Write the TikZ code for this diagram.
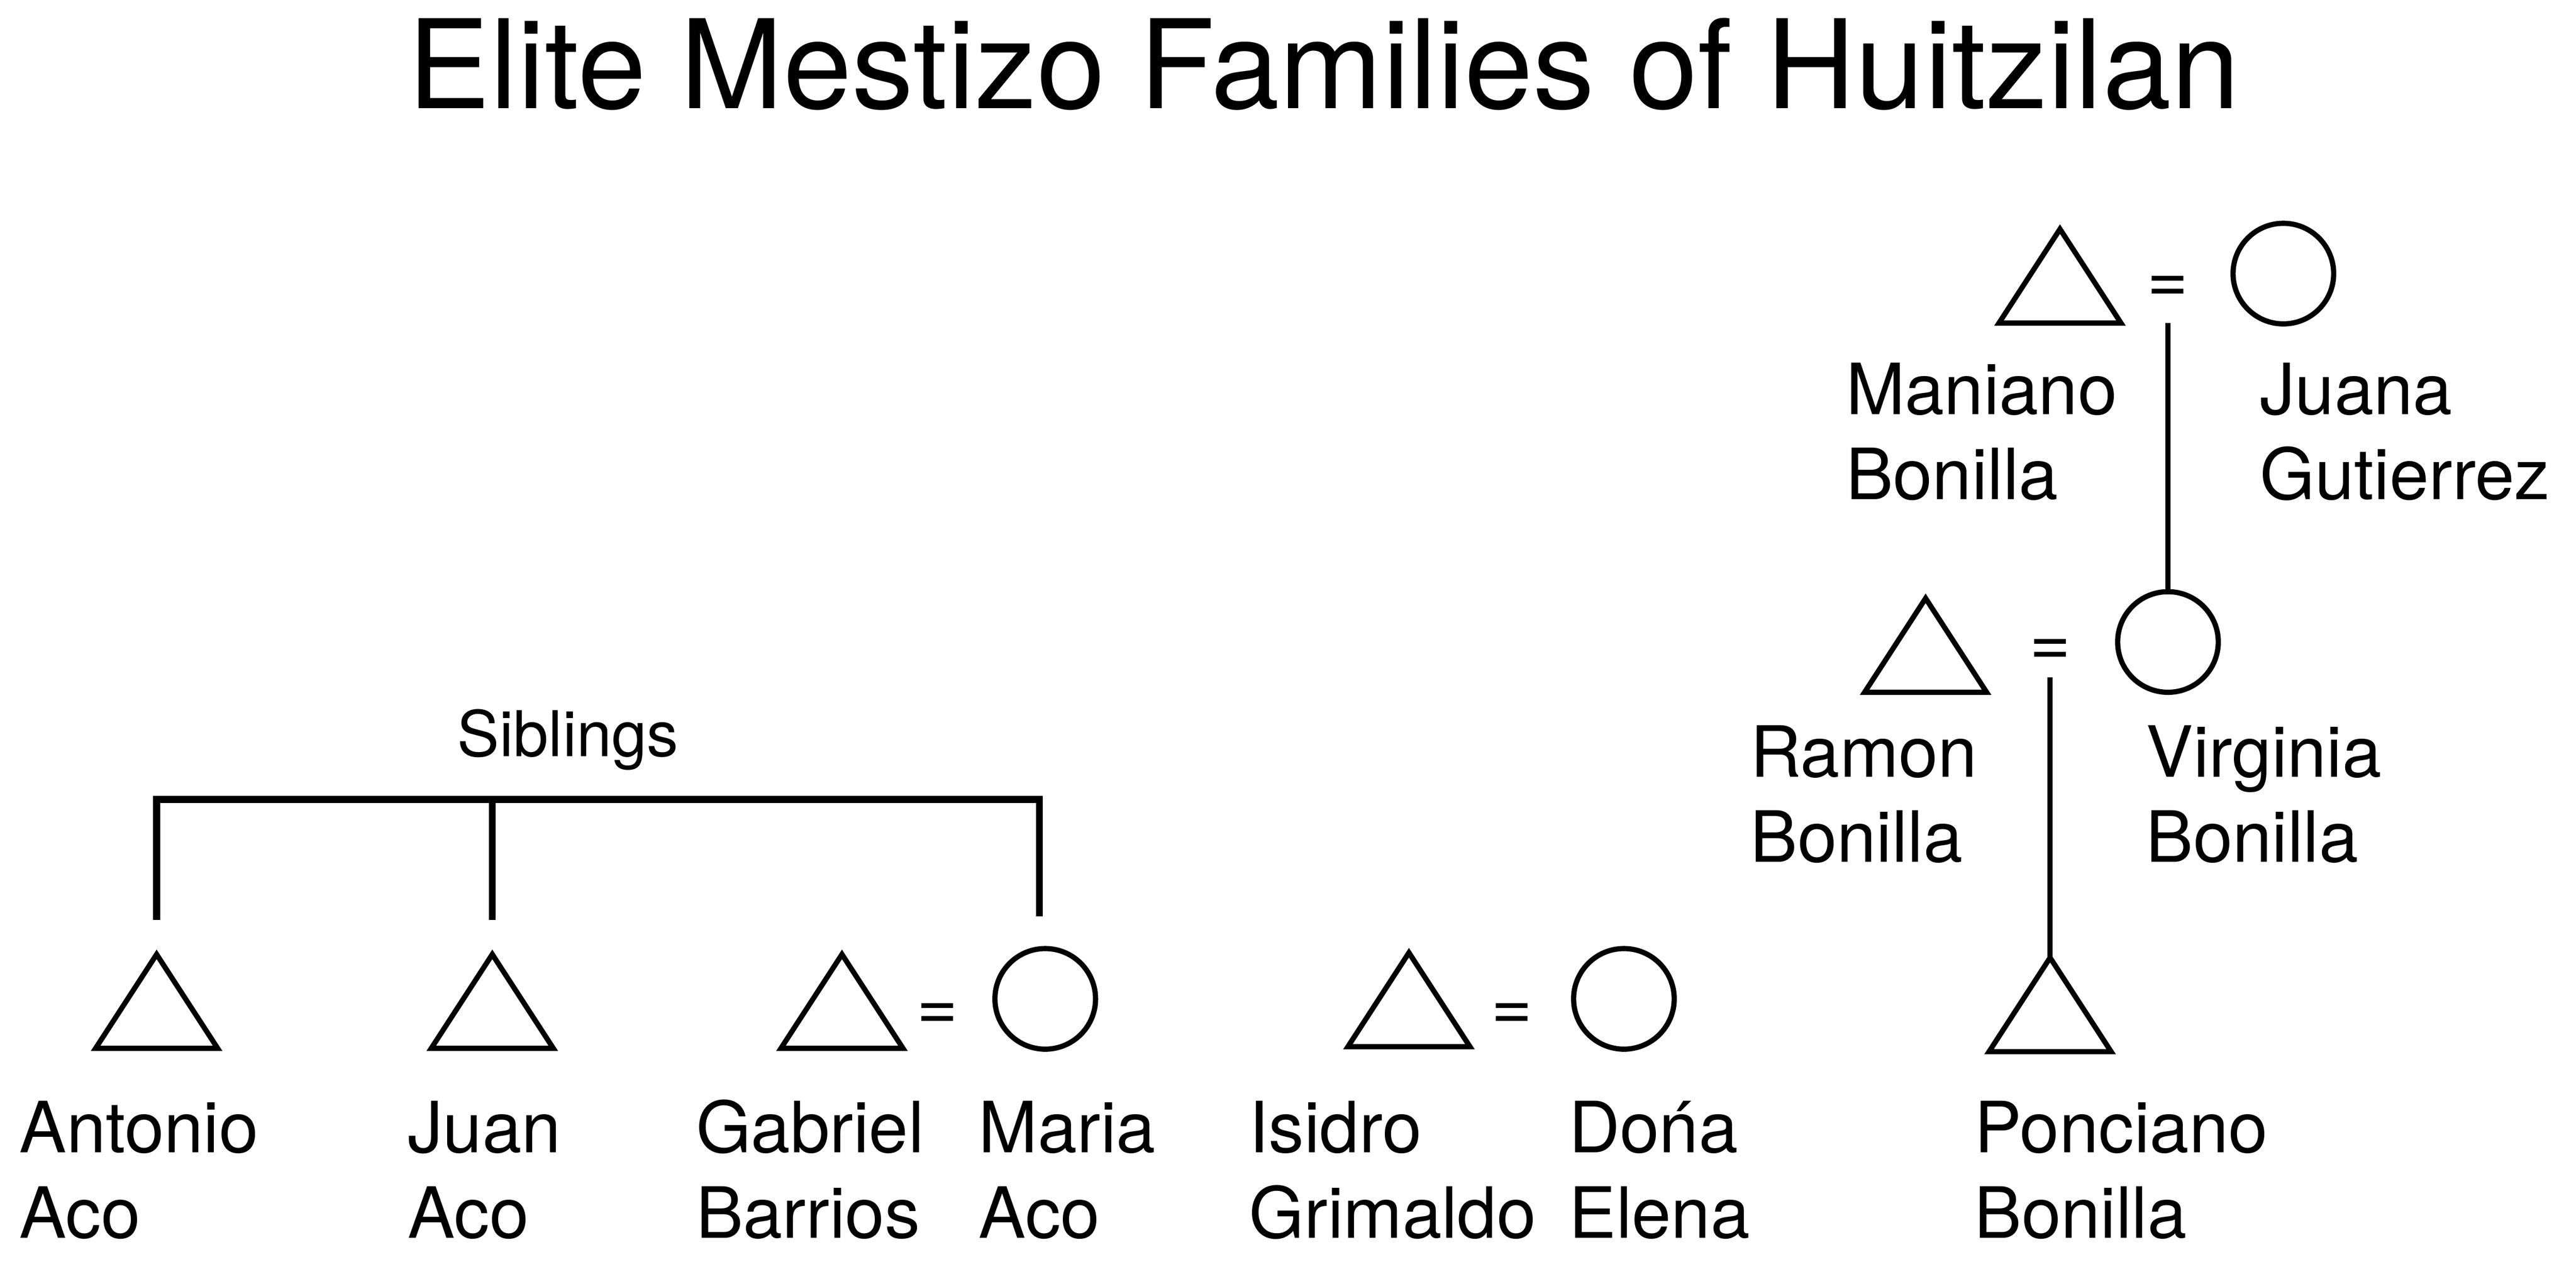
\documentclass[tikz,border=0pt]{standalone}
\usepackage{fontspec}
\setmainfont{TeX Gyre Heros}
\usetikzlibrary{shapes.geometric}

\tikzset{
  male/.style={isosceles triangle, isosceles triangle stretches, shape border rotate=90,
    draw, line width=0.9pt, inner sep=0pt, outer sep=0pt,
    minimum width=7.4mm, minimum height=5.7mm, anchor=apex},
  female/.style={circle, draw, line width=0.9pt, inner sep=0pt, outer sep=0pt, minimum size=6.1mm},
  wed/.style={anchor=base, inner sep=0pt, font=\fontsize{12.2}{14.7}\selectfont},
  lbl/.style={anchor=base west, align=left, inner sep=0pt, font=\fontsize{12.2}{14.7}\selectfont},
  tie/.style={line width=0.9pt},
  bracket/.style={line width=1.2pt}
}

\begin{document}
\begin{tikzpicture}[x=0.01cm, y=-0.01cm]
    \useasboundingbox (0,0) rectangle (1562.5,765.6);

    % Title
    \node[anchor=base, inner sep=0pt, font=\fontsize{21.3}{25}\selectfont] (title) at (803,65.7) {Elite Mestizo Families of Huitzilan};

    % Aco siblings
    \node[male] (ant) at (95,579) {};
    \node[male] (juan) at (298.6,579) {};
    \node[male] (gab) at (510.7,579) {};
    \node[wed] (eqGM) at (568.5,625) {=};
    \node[female] (maria) at (634,606) {};

    % Grimaldo
    \node[male] (isi) at (854.6,578) {};
    \node[wed] (eqID) at (917,625) {=};
    \node[female] (dona) at (985,606) {};

    % Bonilla line
    \node[male] (mani) at (1249.5,139) {};
    \node[wed] (eqMJ) at (1315,183.5) {=};
    \node[female] (juana) at (1385,166) {};
    \node[male] (ramon) at (1168,363) {};
    \node[wed] (eqRV) at (1243.5,404) {=};
    \node[female] (virg) at (1315,389.5) {};
    \node[male] (ponc) at (1243.5,581) {};

    % Siblings bracket
    \coordinate (sib) at (344,485);
    \coordinate (sibR) at (630.5,556);
    \node[anchor=base, inner sep=0pt, font=\fontsize{10.9}{13}\selectfont] (sibl) at (344.5,459) {Siblings};
    \draw[bracket] ([yshift=2.1mm]ant.apex) |- (sib -| sibR) -- (sibR);
    \draw[bracket] ([yshift=2.1mm]juan.apex) -- (juan.apex |- sib);

    % Descent
    \draw[tie] ([yshift=-1.25mm]eqMJ.base) -- (virg.north);
    \draw[tie] ([yshift=-0.7mm]eqRV.base) -- (ponc.apex);

    % Labels
    \node[lbl] (antL) at (11,751) {Antonio\\Aco};
    \node[lbl] (juanL) at (246.5,751) {Juan\\Aco};
    \node[lbl] (gabL) at (421.5,751) {Gabriel\\Barrios};
    \node[lbl] (mariaL) at (593,751) {Maria\\Aco};
    \node[lbl] (isiL) at (757,751) {Isidro\\Grimaldo};
    \node[lbl] (donaL) at (951,751) {Dońa\\Elena};
    \node[lbl] (poncL) at (1197,751) {Ponciano\\Bonilla};
    \node[lbl] (maniL) at (1119,303) {Maniano\\Bonilla};
    \node[lbl] (juanaL) at (1370,303) {Juana\\Gutierrez};
    \node[lbl] (ramonL) at (1061,523) {Ramon\\Bonilla};
    \node[lbl] (virgL) at (1301,523) {Virginia\\Bonilla};
\end{tikzpicture}
\end{document}
